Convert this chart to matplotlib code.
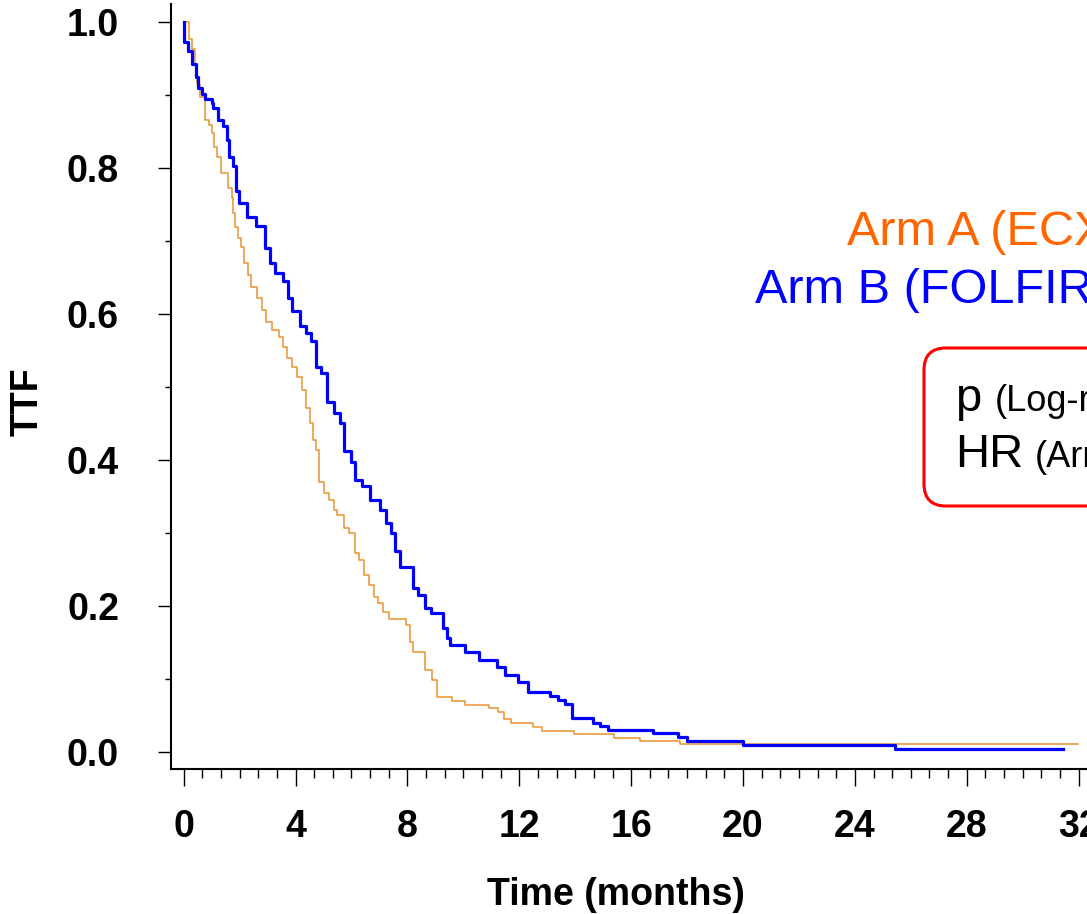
import matplotlib
matplotlib.use("Agg")
import matplotlib.pyplot as plt
from matplotlib.ticker import MultipleLocator, FormatStrFormatter
from matplotlib.patches import FancyBboxPatch
from matplotlib.transforms import IdentityTransform

plt.rcParams['font.family'] = ['Liberation Sans', 'DejaVu Sans']

# Kaplan-Meier steps: time of drop (months), level after drop
arm_a_time = [0.0, 0.18, 0.30, 0.40, 0.48, 0.60, 0.75, 0.90, 1.00, 1.08, 1.19, 1.33,
              1.59, 1.72, 1.76, 1.83, 1.94, 2.05, 2.14, 2.30, 2.40, 2.62, 2.80, 2.94,
              3.16, 3.41, 3.55, 3.70, 3.87, 4.05, 4.23, 4.38, 4.52, 4.62, 4.73, 4.84,
              5.02, 5.20, 5.38, 5.48, 5.73, 5.91, 6.13, 6.26, 6.44, 6.62, 6.80, 6.94,
              7.12, 7.34, 7.95, 8.10, 8.20, 8.63, 8.88, 9.06, 9.60, 10.05, 10.90, 11.24,
              11.45, 11.70, 12.50, 12.80, 13.95, 15.40, 16.30, 17.75, 31.98]
arm_a_surv = [1.0, 0.977, 0.963, 0.941, 0.915, 0.897, 0.866, 0.859, 0.848, 0.829, 0.815, 0.793,
              0.773, 0.759, 0.738, 0.719, 0.704, 0.692, 0.670, 0.653, 0.637, 0.622, 0.605, 0.589,
              0.578, 0.568, 0.555, 0.540, 0.527, 0.514, 0.496, 0.471, 0.451, 0.427, 0.414, 0.370,
              0.355, 0.345, 0.332, 0.325, 0.307, 0.300, 0.273, 0.263, 0.242, 0.229, 0.212, 0.204,
              0.192, 0.182, 0.174, 0.151, 0.137, 0.112, 0.098, 0.075, 0.070, 0.064, 0.060, 0.055,
              0.045, 0.040, 0.034, 0.029, 0.025, 0.019, 0.015, 0.0105, 0.0105]

arm_b_time = [0.0, 0.02, 0.15, 0.29, 0.44, 0.52, 0.64, 0.76, 1.00, 1.04, 1.21, 1.41,
              1.54, 1.63, 1.76, 1.87, 1.98, 2.26, 2.59, 2.91, 3.09, 3.27, 3.55, 3.73,
              3.87, 4.16, 4.38, 4.55, 4.73, 4.91, 5.11, 5.37, 5.59, 5.73, 5.99, 6.13,
              6.38, 6.66, 7.02, 7.23, 7.41, 7.55, 7.74, 8.20, 8.38, 8.62, 8.85, 9.26,
              9.42, 9.53, 10.06, 10.56, 11.20, 11.49, 11.95, 12.31, 13.10, 13.38, 13.63, 13.88,
              14.64, 14.89, 15.17, 16.78, 17.67, 18.00, 20.00, 25.43, 31.43]
arm_b_surv = [1.0, 0.972, 0.960, 0.943, 0.925, 0.909, 0.902, 0.894, 0.889, 0.882, 0.866, 0.857,
              0.838, 0.815, 0.803, 0.768, 0.752, 0.733, 0.720, 0.690, 0.670, 0.656, 0.645, 0.622,
              0.604, 0.584, 0.574, 0.563, 0.527, 0.519, 0.480, 0.464, 0.451, 0.412, 0.397, 0.373,
              0.364, 0.345, 0.332, 0.314, 0.300, 0.276, 0.253, 0.225, 0.215, 0.197, 0.190, 0.170,
              0.156, 0.147, 0.137, 0.126, 0.117, 0.105, 0.096, 0.082, 0.077, 0.071, 0.066, 0.047,
              0.040, 0.036, 0.030, 0.026, 0.021, 0.015, 0.0096, 0.0045, 0.0045]

x_ticks = [0, 4, 8, 12, 16, 20, 24, 28, 32]
y_ticks = [0.0, 0.2, 0.4, 0.6, 0.8, 1.0]

W, H = 1087, 914
fig = plt.figure(figsize=(W / 100, H / 100), dpi=100)
ax = fig.add_axes([171 / W, 1 - 769 / H, (W - 171) / W, (769 - 4) / H])

ax.step(arm_a_time, arm_a_surv, where='post', color='#E8922E', lw=1.1, zorder=2)
ax.step(arm_b_time, arm_b_surv, where='post', color='#0000FF', lw=2.3, zorder=3)

ax.set_xlim(-0.454, 32.30)
ax.set_ylim(-0.0233, 1.0247)

ax.set_xticks(x_ticks)
ax.xaxis.set_minor_locator(MultipleLocator(2 / 3))
ax.set_yticks(y_ticks)
ax.yaxis.set_minor_locator(MultipleLocator(0.1))
ax.yaxis.set_major_formatter(FormatStrFormatter('%.1f'))

for s in ['top', 'right']:
    ax.spines[s].set_visible(False)
for s in ['left', 'bottom']:
    ax.spines[s].set_linewidth(1.5)

ax.tick_params(axis='x', which='major', length=12, width=1.0, pad=17, labelsize=27)
ax.tick_params(axis='x', which='minor', length=6.5, width=1.0)
ax.tick_params(axis='y', which='major', length=9.4, width=1.0, pad=28, labelsize=27)
ax.tick_params(axis='y', which='minor', length=4.3, width=1.0)
for lab in ax.get_xticklabels() + ax.get_yticklabels():
    lab.set_fontweight('bold')

ax.set_xlabel('Time (months)', fontsize=27, fontweight='bold', va='baseline')
ax.xaxis.set_label_coords((616 - 171) / 916, (769 - 905) / 765)
ax.set_ylabel('TTF', fontsize=27, fontweight='bold', ha='center', va='center',
              rotation_mode='default')
ax.yaxis.set_label_coords((28 - 171) / 916, (769 - 402) / 765)

# arm labels (run off the right edge like the original)
fig.text(847 / W, 1 - 245 / H, 'Arm A (ECX)', color='#FF6600', fontsize=35, va='baseline')
fig.text(755 / W, 1 - 303 / H, 'Arm B (FOLFIRI)', color='#0000FF', fontsize=35, va='baseline')

# red rounded box with test statistics
box = FancyBboxPatch((924, H - 506), 260, 158, boxstyle='round,pad=0,rounding_size=22',
                     transform=IdentityTransform(), fill=False, ec='#FF0000', lw=2.2)
fig.add_artist(box)
fig.text(955 / W, 1 - 411 / H, 'p', fontsize=34, va='baseline')
fig.text(995 / W, 1 - 411 / H, '(Log-rank)', fontsize=26, va='baseline')
fig.text(955 / W, 1 - 467 / H, 'HR', fontsize=34, va='baseline')
fig.text(1035 / W, 1 - 467 / H, '(Arm', fontsize=26, va='baseline')

fig.savefig('out.png', dpi=100)
